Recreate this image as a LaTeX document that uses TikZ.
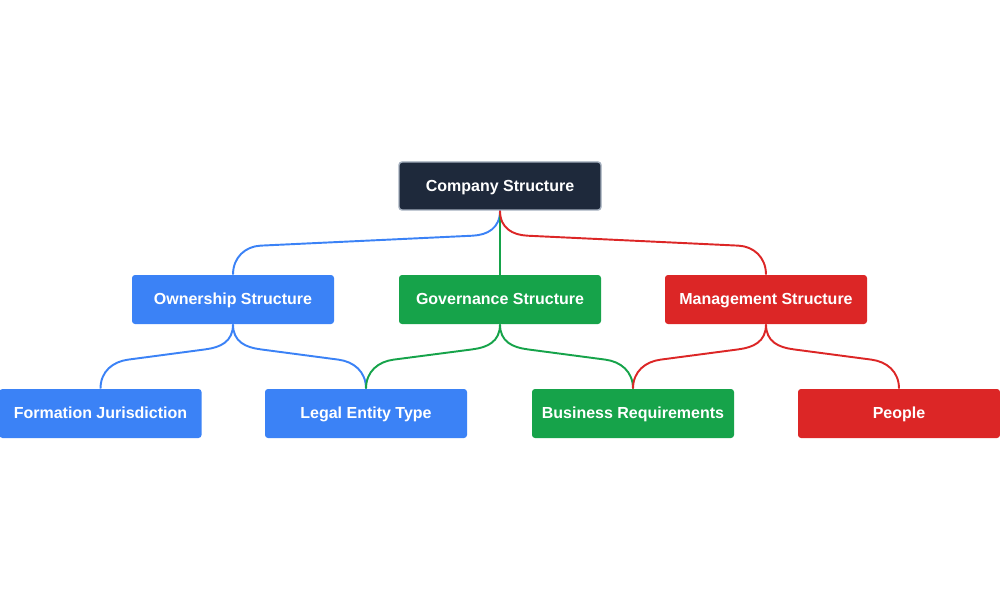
\documentclass[tikz,border=0pt]{standalone}
\usepackage{fontspec}
\setmainfont{Liberation Sans}
\usetikzlibrary{calc}

\definecolor{rootcol}{HTML}{1E293B}
\definecolor{rootline}{HTML}{A3AEBD}
\definecolor{bluecol}{HTML}{3B82F6}
\definecolor{greencol}{HTML}{16A34A}
\definecolor{redcol}{HTML}{DC2626}

\tikzset{
  box/.style={rectangle, rounded corners=0.06cm, minimum width=4.04cm, minimum height=0.98cm,
    inner sep=0pt, text height=0.72em, text depth=0.1em, text=white,
    font=\fontsize{9.1}{11}\selectfont\bfseries},
  link/.style={line width=1.1pt},
}

% branch: colour, parent, child, side (1 = right, -1 = left)
\newcommand{\branch}[4]{%
  \coordinate (turnA) at ($(#2.south)+(#4*0.55,-0.5)$);
  \coordinate (turnB) at ($(#3.north)+(#4*-0.55,0.58)$);
  \draw[link, #1] (#2.south) .. controls +(0,-0.35) and ($(turnA)!-0.3cm!(turnB)$) .. (turnA)
    -- (turnB) .. controls ($(turnB)!-0.3cm!(turnA)$) and +(0,0.35) .. (#3.north);}

\begin{document}
\begin{tikzpicture}
        \useasboundingbox (0,0) rectangle (20,12);

        % Root
        \node[box, fill=rootcol, draw=rootline, line width=0.8pt, minimum height=0.96cm] (root) at (10,8.28) {Company Structure};

        % Second level
        \node[box, fill=bluecol] (own) at (4.66,6.01) {Ownership Structure};
        \node[box, fill=greencol] (gov) at (10,6.01) {Governance Structure};
        \node[box, fill=redcol] (man) at (15.32,6.01) {Management Structure};

        % Third level
        \node[box, fill=bluecol] (form) at (2.01,3.73) {Formation Jurisdiction};
        \node[box, fill=bluecol] (legal) at (7.32,3.73) {Legal Entity Type};
        \node[box, fill=greencol] (bus) at (12.66,3.73) {Business Requirements};
        \node[box, fill=redcol] (people) at (17.98,3.73) {People};

        % Links from the root
        \branch{bluecol}{root}{own}{-1}
        \draw[link, greencol] (root.south) -- (gov.north);
        \branch{redcol}{root}{man}{1}

        % Links to the third level
        \branch{bluecol}{own}{form}{-1}
        \branch{bluecol}{own}{legal}{1}
        \branch{greencol}{gov}{legal}{-1}
        \branch{greencol}{gov}{bus}{1}
        \branch{redcol}{man}{bus}{-1}
        \branch{redcol}{man}{people}{1}
\end{tikzpicture}
\end{document}
